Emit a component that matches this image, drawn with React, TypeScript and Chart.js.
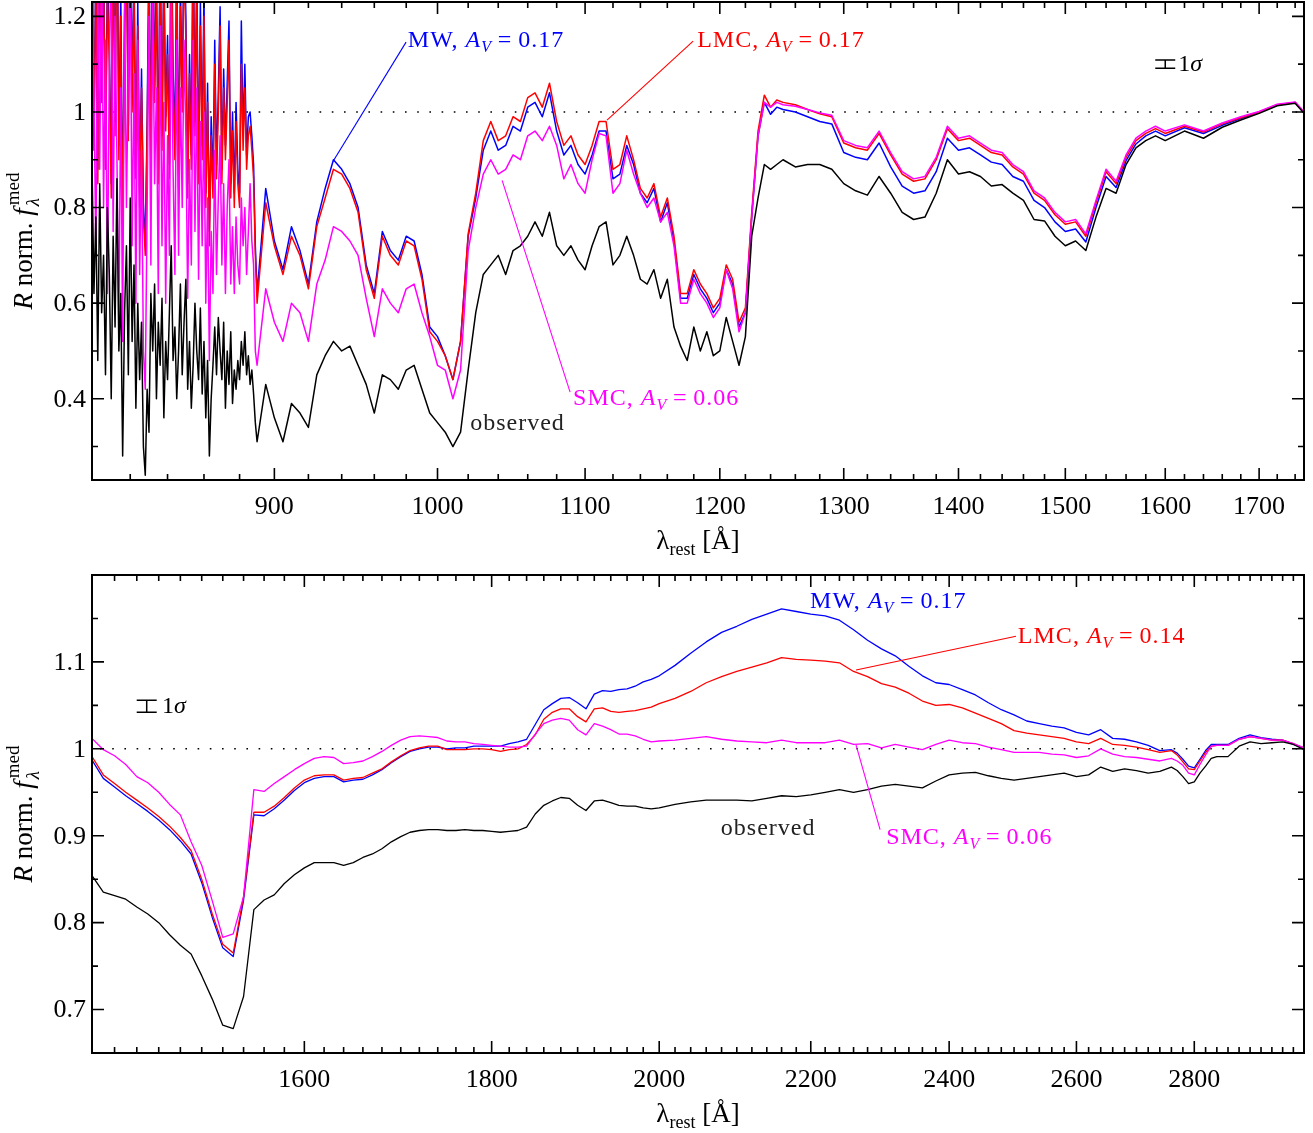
import React, { useEffect, useRef } from "react";
import { Chart, registerables } from "chart.js";

Chart.register(...registerables);

// ---------------- top panel data (rest wavelength, Angstrom) ----------------
const topLambda = [
  800, 801, 802, 803, 804, 805, 806, 807, 808, 809,
  810, 811, 812, 813, 814, 815, 816, 817, 818, 819,
  820, 821, 822, 823, 824, 825, 826, 827, 828, 829,
  830, 831, 832, 833, 834, 835, 836, 837, 838, 839,
  840, 841, 842, 843, 844, 845, 846, 847, 848, 849,
  850, 851, 852, 853, 854, 855, 856, 857, 858, 859,
  860, 861, 862, 863, 864, 865, 866, 867, 868, 869,
  870, 871, 872, 873, 874, 875, 876, 877, 878, 879,
  880, 881, 882, 883, 884, 885, 886, 887, 888, 889,
  890, 895, 900, 905, 910, 915, 920, 925, 930, 935,
  940, 945, 950, 955, 960, 965, 970, 975, 980, 985,
  990, 995, 1000, 1005, 1010, 1015, 1020, 1025, 1030, 1035,
  1040, 1045, 1050, 1055, 1060, 1065, 1070, 1075, 1080, 1085,
  1090, 1095, 1100, 1105, 1110, 1115, 1120, 1125, 1130, 1135,
  1140, 1145, 1150, 1155, 1160, 1165, 1170, 1175, 1180, 1185,
  1190, 1195, 1200, 1205, 1210, 1215, 1220, 1225, 1230, 1235,
  1240, 1245, 1250,
  1260, 1270, 1280, 1290, 1300, 1310, 1320, 1330, 1340, 1350,
  1360, 1370, 1380, 1390, 1400, 1410, 1420, 1430, 1440, 1450,
  1460, 1470, 1480, 1490, 1500, 1510, 1520, 1530, 1540, 1550,
  1560, 1570, 1580, 1590, 1600, 1620, 1640, 1660, 1680, 1700,
  1720, 1740, 1750,
];

const topObserved = [
  0.90, 0.62, 0.78, 0.48, 0.85, 0.58, 0.70, 0.45, 0.80, 0.66,
  0.40, 0.74, 0.55, 0.86, 0.50, 0.62, 0.28, 0.58, 0.72, 0.45,
  0.82, 0.52, 0.68, 0.38, 0.60, 0.44, 0.56, 0.30, 0.24, 0.42,
  0.33, 0.62, 0.50, 0.64, 0.40, 0.56, 0.47, 0.61, 0.36, 0.52,
  0.44, 0.58, 0.72, 0.48, 0.55, 0.40, 0.50, 0.64, 0.45, 0.56,
  0.65, 0.42, 0.52, 0.38, 0.47, 0.60, 0.50, 0.44, 0.59, 0.41,
  0.52, 0.36, 0.48, 0.28, 0.40, 0.47, 0.55, 0.45, 0.57, 0.50,
  0.44, 0.56, 0.38, 0.50, 0.43, 0.54, 0.39, 0.46, 0.42, 0.48,
  0.44, 0.52, 0.47, 0.54, 0.45, 0.49, 0.43, 0.46, 0.41, 0.35,
  0.31, 0.43, 0.36, 0.31, 0.39, 0.37, 0.34, 0.45, 0.49, 0.52,
  0.50, 0.51, 0.47, 0.43, 0.37, 0.45, 0.44, 0.42, 0.46, 0.47,
  0.42, 0.37, 0.35, 0.33, 0.30, 0.33, 0.46, 0.58, 0.66, 0.68,
  0.70, 0.66, 0.71, 0.72, 0.74, 0.77, 0.74, 0.79, 0.72, 0.70,
  0.72, 0.69, 0.67, 0.72, 0.76, 0.77, 0.68, 0.70, 0.74, 0.70,
  0.65, 0.64, 0.67, 0.61, 0.65, 0.55, 0.51, 0.48, 0.55, 0.50,
  0.54, 0.49, 0.50, 0.57, 0.52, 0.47, 0.53, 0.74, 0.82, 0.89,
  0.88, 0.89, 0.90,
  0.885, 0.89, 0.89, 0.88, 0.85, 0.835, 0.826, 0.865, 0.83, 0.79,
  0.775, 0.78, 0.83, 0.90, 0.87, 0.875, 0.865, 0.845, 0.848, 0.83,
  0.815, 0.775, 0.772, 0.74, 0.72, 0.73, 0.71, 0.78, 0.84, 0.83,
  0.89, 0.925, 0.94, 0.95, 0.94, 0.96, 0.945, 0.968, 0.983, 0.997,
  1.013, 1.018, 0.997,
];

const topMW = [
  1.40, 0.95, 1.33, 0.88, 1.45, 1.05, 1.35, 0.91, 1.30, 1.14,
  0.85, 1.43, 0.98, 1.50, 0.93, 1.25, 0.78, 1.20, 1.37, 0.97,
  1.47, 1.03, 1.31, 0.89, 1.23, 0.83, 1.09, 0.81, 0.72, 0.98,
  1.35, 0.91, 1.43, 1.05, 1.30, 0.88, 1.40, 0.95, 1.33, 0.99,
  1.16, 0.89, 1.45, 1.09, 0.93, 1.35, 0.87, 1.27, 1.03, 1.38,
  1.20, 0.85, 1.12, 0.91, 1.41, 0.98, 1.30, 0.88, 1.23, 0.93,
  1.25, 0.83, 1.06, 0.75, 0.99, 0.85, 1.15, 0.89, 1.04, 1.22,
  0.88, 1.09, 0.93, 1.06, 1.19, 0.85, 1.00, 0.83, 1.02, 0.88,
  0.83, 1.19, 0.95, 1.10, 0.91, 0.99, 1.00, 0.95, 0.89, 0.72,
  0.62, 0.84, 0.73, 0.67, 0.76, 0.71, 0.64, 0.77, 0.84, 0.90,
  0.88, 0.85, 0.80, 0.68, 0.62, 0.75, 0.71, 0.69, 0.74, 0.73,
  0.66, 0.55, 0.53, 0.49, 0.44, 0.52, 0.74, 0.82, 0.92, 0.96,
  0.92, 0.93, 0.97, 0.96, 1.01, 1.02, 0.99, 1.04, 0.96, 0.91,
  0.93, 0.89, 0.87, 0.91, 0.96, 0.96, 0.86, 0.87, 0.93, 0.89,
  0.83, 0.81, 0.84, 0.77, 0.81, 0.73, 0.61, 0.61, 0.66, 0.63,
  0.61, 0.58, 0.60, 0.67, 0.64, 0.55, 0.58, 0.78, 0.95, 1.02,
  0.995, 1.01, 1.005,
  1.0, 0.99, 0.98, 0.975, 0.915, 0.905, 0.90, 0.935, 0.885, 0.845,
  0.83, 0.835, 0.875, 0.945, 0.92, 0.925, 0.91, 0.895, 0.89, 0.865,
  0.855, 0.815, 0.80, 0.77, 0.75, 0.755, 0.728, 0.80, 0.865, 0.842,
  0.898, 0.933, 0.95, 0.96, 0.95, 0.967, 0.955, 0.972, 0.986, 0.999,
  1.014, 1.02, 0.999,
];

const topLMC = [
  1.35, 0.92, 1.28, 0.85, 1.40, 1.02, 1.30, 0.88, 1.25, 1.10,
  0.82, 1.38, 0.95, 1.45, 0.90, 1.20, 0.76, 1.15, 1.32, 0.94,
  1.42, 1.00, 1.26, 0.86, 1.18, 0.80, 1.05, 0.78, 0.70, 0.95,
  1.30, 0.88, 1.38, 1.02, 1.25, 0.85, 1.35, 0.92, 1.28, 0.96,
  1.12, 0.86, 1.40, 1.05, 0.90, 1.30, 0.84, 1.22, 1.00, 1.33,
  1.15, 0.82, 1.08, 0.88, 1.36, 0.95, 1.25, 0.85, 1.18, 0.90,
  1.20, 0.80, 1.02, 0.72, 0.95, 0.82, 1.10, 0.86, 1.00, 1.18,
  0.85, 1.05, 0.90, 1.02, 1.15, 0.82, 0.96, 0.80, 0.98, 0.85,
  0.80, 1.10, 0.92, 1.05, 0.88, 0.95, 0.97, 0.92, 0.86, 0.70,
  0.60, 0.81, 0.72, 0.66, 0.74, 0.70, 0.63, 0.76, 0.82, 0.88,
  0.87, 0.84, 0.79, 0.67, 0.61, 0.74, 0.70, 0.68, 0.73, 0.72,
  0.65, 0.54, 0.52, 0.49, 0.44, 0.52, 0.745, 0.83, 0.94, 0.98,
  0.94, 0.95, 0.99, 0.98, 1.03, 1.04, 1.01, 1.06, 0.98, 0.93,
  0.95, 0.91, 0.89, 0.93, 0.98, 0.98, 0.88, 0.89, 0.95, 0.90,
  0.84, 0.82, 0.85, 0.78, 0.82, 0.74, 0.62, 0.62, 0.67, 0.64,
  0.62, 0.59, 0.61, 0.68, 0.65, 0.56, 0.59, 0.79, 0.96, 1.035,
  1.01, 1.025, 1.02,
  1.015, 1.005, 0.996, 0.99, 0.935, 0.925, 0.92, 0.955, 0.91, 0.87,
  0.855, 0.86, 0.90, 0.965, 0.94, 0.945, 0.93, 0.915, 0.91, 0.885,
  0.87, 0.83, 0.815, 0.785, 0.765, 0.77, 0.74, 0.81, 0.875, 0.85,
  0.905, 0.94, 0.955, 0.965, 0.955, 0.97, 0.958, 0.975, 0.988, 1.0,
  1.015, 1.02, 1.0,
];

const topSMC = [
  1.30, 1.05, 0.70, 1.25, 0.88, 1.35, 0.80, 1.15, 0.62, 1.10,
  1.32, 0.75, 1.20, 0.90, 0.55, 1.05, 0.52, 1.25, 0.80, 1.10,
  1.30, 0.72, 1.08, 0.60, 1.15, 0.66, 0.92, 0.50, 0.42, 0.80,
  1.20, 0.68, 1.25, 0.85, 1.05, 0.62, 1.18, 0.72, 1.02, 0.60,
  0.95, 0.70, 1.25, 0.88, 0.66, 1.15, 0.70, 1.05, 0.80, 1.15,
  0.95, 0.61, 0.90, 0.68, 1.15, 0.75, 1.05, 0.65, 0.98, 0.72,
  1.00, 0.60, 0.82, 0.48, 0.75, 0.62, 0.92, 0.66, 0.82, 0.95,
  0.68, 0.85, 0.62, 0.80, 0.90, 0.64, 0.76, 0.62, 0.78, 0.68,
  0.64, 0.82, 0.72, 0.80, 0.66, 0.75, 0.85, 0.73, 0.68, 0.50,
  0.47, 0.63, 0.56, 0.52, 0.60, 0.58, 0.52, 0.64, 0.69, 0.76,
  0.75, 0.73, 0.70, 0.61, 0.53, 0.63, 0.60, 0.58, 0.63, 0.64,
  0.58, 0.53, 0.47, 0.46, 0.40, 0.46, 0.71, 0.80, 0.87, 0.90,
  0.87, 0.88, 0.91, 0.90, 0.95, 0.96, 0.94, 0.97, 0.93, 0.86,
  0.89, 0.85, 0.83, 0.90, 0.955, 0.95, 0.83, 0.85, 0.92, 0.87,
  0.83, 0.80, 0.82, 0.77, 0.79, 0.72, 0.60, 0.60, 0.65, 0.62,
  0.60, 0.57, 0.59, 0.67, 0.63, 0.54, 0.58, 0.78, 0.95, 1.02,
  1.01, 1.02, 1.015,
  1.012, 1.005, 0.998, 0.993, 0.94, 0.93, 0.925, 0.96, 0.915, 0.875,
  0.86, 0.865, 0.905, 0.97, 0.945, 0.95, 0.935, 0.92, 0.915, 0.89,
  0.875, 0.835, 0.82, 0.79, 0.77, 0.775, 0.745, 0.815, 0.88, 0.855,
  0.91, 0.945, 0.96, 0.97, 0.96, 0.973, 0.96, 0.977, 0.99, 1.001,
  1.016, 1.021, 1.0,
];

// ---------------- bottom panel data ----------------
const botLambda = [
  1400, 1410, 1420, 1430, 1440, 1450, 1460, 1470, 1480, 1490,
  1500, 1510, 1520, 1530, 1540, 1550, 1560, 1570, 1580, 1590,
  1600, 1610, 1620, 1630, 1640, 1650, 1660, 1670, 1680, 1690,
  1700, 1710, 1720, 1730, 1740, 1750, 1760, 1770, 1780, 1790,
  1800, 1810, 1820, 1830, 1840, 1850, 1860, 1870, 1880, 1890,
  1900, 1910, 1920, 1930, 1940, 1950, 1960, 1970, 1980, 1990,
  2000,
  2020, 2040, 2060, 2080, 2100, 2120, 2140, 2160, 2180, 2200,
  2220, 2240, 2260, 2280, 2300, 2320, 2340, 2360, 2380, 2400,
  2420, 2440, 2460, 2480, 2500, 2520, 2540, 2560, 2580, 2600,
  2620, 2640, 2660, 2680, 2700, 2720, 2740, 2760,
  2770, 2780, 2790, 2800, 2810, 2820, 2830, 2840,
  2860, 2880, 2900, 2920, 2940, 2960, 2980, 3000,
];

const botObserved = [
  0.854, 0.835, 0.831, 0.827, 0.818, 0.810, 0.800, 0.786, 0.774, 0.764,
  0.739, 0.712, 0.682, 0.678, 0.715, 0.815, 0.826, 0.832, 0.845, 0.855,
  0.863, 0.869, 0.869, 0.869, 0.866, 0.869, 0.875, 0.879, 0.885, 0.893,
  0.899, 0.904, 0.906, 0.907, 0.907, 0.906, 0.906, 0.907, 0.906, 0.906,
  0.905, 0.904, 0.905, 0.906, 0.910, 0.925, 0.935, 0.940, 0.944, 0.943,
  0.935, 0.929, 0.940, 0.941, 0.938, 0.935, 0.934, 0.934, 0.932, 0.931,
  0.932,
  0.936, 0.939, 0.941, 0.941, 0.941, 0.940, 0.943, 0.946, 0.945, 0.947,
  0.950, 0.953, 0.950, 0.953, 0.957, 0.959, 0.957, 0.955, 0.963, 0.970,
  0.972, 0.973, 0.969, 0.966, 0.964, 0.966, 0.968, 0.970, 0.972, 0.968,
  0.970, 0.979, 0.974, 0.977, 0.975, 0.972, 0.974, 0.979,
  0.975, 0.968, 0.960, 0.962, 0.972, 0.980, 0.989, 0.991,
  0.991, 1.003, 1.008, 1.006, 1.007, 1.008, 1.005, 0.999,
];

const botMW = [
  0.987, 0.966, 0.956, 0.946, 0.937, 0.928, 0.918, 0.907, 0.894, 0.879,
  0.846, 0.806, 0.771, 0.761, 0.826, 0.924, 0.923, 0.931, 0.941, 0.952,
  0.961, 0.966, 0.968, 0.968, 0.962, 0.964, 0.965, 0.970, 0.976, 0.984,
  0.991, 0.997, 1.000, 1.002, 1.002, 1.000, 1.001, 1.001, 1.003, 1.003,
  1.003, 1.003, 1.006, 1.008, 1.011, 1.028, 1.045, 1.052, 1.058, 1.059,
  1.053, 1.046, 1.063, 1.067, 1.066, 1.068, 1.069, 1.072, 1.077, 1.080,
  1.084,
  1.096, 1.110, 1.123, 1.134, 1.141, 1.149, 1.155, 1.161, 1.158, 1.155,
  1.153, 1.148, 1.137, 1.125, 1.115, 1.107, 1.095, 1.084, 1.076, 1.074,
  1.068, 1.062, 1.053, 1.045, 1.039, 1.032, 1.029, 1.026, 1.024, 1.019,
  1.016, 1.022, 1.012, 1.011, 1.008, 1.004, 0.998, 0.999,
  0.995, 0.988, 0.980, 0.978, 0.988, 0.998, 1.005, 1.005,
  1.005, 1.012, 1.016, 1.013, 1.011, 1.010, 1.005, 1.001,
];

const botLMC = [
  0.991, 0.970, 0.960, 0.950, 0.941, 0.932, 0.922, 0.911, 0.898, 0.883,
  0.850, 0.810, 0.775, 0.765, 0.830, 0.927, 0.927, 0.934, 0.944, 0.955,
  0.964, 0.969, 0.970, 0.970, 0.964, 0.966, 0.967, 0.972, 0.977, 0.985,
  0.992, 0.998, 1.001, 1.003, 1.003, 0.999, 0.999, 0.999, 1.000, 1.000,
  0.999, 0.997, 0.999, 1.000, 1.005, 1.016, 1.034, 1.042, 1.046, 1.046,
  1.037, 1.031, 1.046, 1.047, 1.043, 1.042, 1.043, 1.044, 1.046, 1.048,
  1.052,
  1.058, 1.066, 1.076, 1.083, 1.089, 1.094, 1.099, 1.105, 1.103, 1.102,
  1.101, 1.099, 1.089, 1.083, 1.075, 1.071, 1.064, 1.055, 1.050, 1.051,
  1.047, 1.041, 1.035, 1.029, 1.021, 1.018, 1.016, 1.014, 1.012, 1.008,
  1.006, 1.012, 1.005, 1.004, 1.002, 0.999, 0.996, 0.998,
  0.993, 0.985, 0.977, 0.976, 0.986, 0.996, 1.003, 1.004,
  1.004, 1.011, 1.014, 1.012, 1.010, 1.010, 1.006, 1.001,
];

const botSMC = [
  1.012, 0.999, 0.992, 0.982, 0.968, 0.961, 0.950, 0.936, 0.924, 0.893,
  0.866, 0.825, 0.783, 0.787, 0.830, 0.953, 0.951, 0.960, 0.968, 0.976,
  0.983, 0.989, 0.991, 0.990, 0.983, 0.984, 0.986, 0.991, 0.997, 1.004,
  1.010, 1.014, 1.015, 1.014, 1.013, 1.009, 1.008, 1.008, 1.006, 1.005,
  1.004, 1.003, 1.002, 1.002, 1.003, 1.017, 1.029, 1.033, 1.035, 1.033,
  1.022, 1.016, 1.029, 1.026, 1.022, 1.017, 1.017, 1.015, 1.011, 1.008,
  1.009,
  1.010, 1.012, 1.014, 1.011, 1.009, 1.008, 1.007, 1.010, 1.007, 1.007,
  1.007, 1.010, 1.005, 1.006, 1.001, 1.005, 1.002, 0.999, 1.005, 1.010,
  1.007, 1.006, 1.002, 0.999, 0.996, 0.996, 0.996, 0.994, 0.993, 0.990,
  0.992, 1.000, 0.994, 0.991, 0.990, 0.988, 0.986, 0.989,
  0.986, 0.981, 0.972, 0.970, 0.982, 0.993, 1.003, 1.004,
  1.004, 1.011, 1.014, 1.012, 1.010, 1.010, 1.006, 1.001,
];

// ---------------- axes ----------------
const topXMajor = [900, 1000, 1100, 1200, 1300, 1400, 1500, 1600, 1700];
const topXLabels = ["900", "1000", "1100", "1200", "1300", "1400", "1500", "1600", "1700"];
const topYMajor = [0.4, 0.6, 0.8, 1, 1.2];
const topYLabels = ["0.4", "0.6", "0.8", "1", "1.2"];
const topYMinor = [0.3, 0.5, 0.7, 0.9, 1.1];

const botXMajor = [1600, 1800, 2000, 2200, 2400, 2600, 2800];
const botXLabels = ["1600", "1800", "2000", "2200", "2400", "2600", "2800"];
const botYMajor = [0.7, 0.8, 0.9, 1, 1.1];
const botYLabels = ["0.7", "0.8", "0.9", "1", "1.1"];
const botYMinor = [0.75, 0.85, 0.95, 1.05, 1.15];

function minorTicks(from: number, to: number, step: number, majorStep: number): number[] {
  const out: number[] = [];
  for (let v = from; v <= to; v += step) if (v % majorStep !== 0) out.push(v);
  return out;
}
const topXMinor = minorTicks(820, 1740, 20, 100);
const botXMinor = minorTicks(1420, 2980, 20, 200);

const C_OBS = "#000000";
const C_MW = "#0000ff";
const C_LMC = "#ff0000";
const C_SMC = "#ff00ff";

const FAMILY = '"Liberation Serif", "Times New Roman", serif';
const font = (sz: number, it?: boolean) => `${it ? "italic " : ""}${sz}px ${FAMILY}`;

type Seg = { t: string; sz: number; it?: boolean; dy?: number };

function segWidth(ctx: CanvasRenderingContext2D, segs: Seg[]) {
  let w = 0;
  for (const s of segs) {
    ctx.font = font(s.sz, s.it);
    w += ctx.measureText(s.t).width;
  }
  return w;
}
function drawSegs(ctx: CanvasRenderingContext2D, segs: Seg[], x: number, y: number) {
  let cx = x;
  for (const s of segs) {
    ctx.font = font(s.sz, s.it);
    ctx.fillText(s.t, cx, y + (s.dy || 0));
    cx += ctx.measureText(s.t).width;
  }
  return cx;
}

const avLabel = (name: string, val: string): Seg[] => [
  { t: name + ", ", sz: 24 },
  { t: "A", sz: 24, it: true },
  { t: "V", sz: 16, it: true, dy: 5 },
  { t: "\u2009=\u2009" + val, sz: 24 },
];

interface Note { lam: number; val: number; color: string; segs: Seg[] }
interface Leader { a: [number, number]; b: [number, number]; color: string }
interface PanelCfg {
  lam: number[];
  series: { values: number[]; color: string; order: number }[];
  xMin: number; xMax: number; yMin: number; yMax: number;
  padding: { left: number; right: number; top: number; bottom: number };
  lineWidth: number;
  xMajor: number[]; xLabels: string[]; xMinor: number[];
  yMajor: number[]; yLabels: string[]; yMinor: number[];
  notes: Note[]; leaders: Leader[];
  sigma: { lam: number; val: number; half: number; textLam: number; textVal: number };
}

const topCfg: PanelCfg = {
  lam: topLambda,
  series: [
    { values: topMW, color: C_MW, order: 3 },
    { values: topLMC, color: C_LMC, order: 2 },
    { values: topSMC, color: C_SMC, order: 1 },
    { values: topObserved, color: C_OBS, order: 0 },
  ],
  xMin: 800, xMax: 1750, yMin: 0.23, yMax: 1.23,
  padding: { left: 92, right: 9, top: 2, bottom: 80 },
  lineWidth: 1.5,
  xMajor: topXMajor, xLabels: topXLabels, xMinor: topXMinor,
  yMajor: topYMajor, yLabels: topYLabels, yMinor: topYMinor,
  notes: [
    { lam: 981, val: 1.135, color: C_MW, segs: avLabel("MW", "0.17") },
    { lam: 1182.6, val: 1.135, color: C_LMC, segs: avLabel("LMC", "0.17") },
    { lam: 1091.5, val: 0.386, color: C_SMC, segs: avLabel("SMC", "0.06") },
    { lam: 1021.3, val: 0.334, color: "#222", segs: [{ t: "observed", sz: 24 }] },
  ],
  leaders: [
    { a: [934.8, 0.897], b: [979.9, 1.146], color: C_MW },
    { a: [1115.7, 0.983], b: [1179.5, 1.148], color: C_LMC },
    { a: [1042.6, 0.857], b: [1089.4, 0.414], color: C_SMC },
  ],
  sigma: { lam: 1600, val: 1.1, half: 0.0084, textLam: 1613.4, textVal: 1.085 },
};

const botCfg: PanelCfg = {
  lam: botLambda,
  series: [
    { values: botMW, color: C_MW, order: 3 },
    { values: botLMC, color: C_LMC, order: 2 },
    { values: botSMC, color: C_SMC, order: 1 },
    { values: botObserved, color: C_OBS, order: 0 },
  ],
  xMin: 1400, xMax: 3000, yMin: 0.65, yMax: 1.2,
  padding: { left: 92, right: 9, top: 15, bottom: 80 },
  lineWidth: 1.3,
  xMajor: botXMajor, xLabels: botXLabels, xMinor: botXMinor,
  yMajor: botYMajor, yLabels: botYLabels, yMinor: botYMinor,
  notes: [
    { lam: 2199, val: 1.1617, color: C_MW, segs: avLabel("MW", "0.17") },
    { lam: 2506, val: 1.1216, color: C_LMC, segs: avLabel("LMC", "0.14") },
    { lam: 2306.8, val: 0.891, color: C_SMC, segs: avLabel("SMC", "0.06") },
    { lam: 2079, val: 0.9014, color: "#222", segs: [{ t: "observed", sz: 24 }] },
  ],
  leaders: [
    { a: [2263.5, 1.0906], b: [2503, 1.1296], color: C_LMC },
    { a: [2263.5, 1.0046], b: [2298, 0.907], color: C_SMC },
  ],
  sigma: { lam: 1449, val: 1.049, half: 0.0069, textLam: 1463, textVal: 1.041 },
};

function makeDecor(cfg: PanelCfg) {
  return {
    id: "decor",
    beforeDatasetsDraw(chart: any) {
      const { ctx, chartArea: a, scales } = chart;
      const y = scales.y.getPixelForValue(1);
      ctx.save();
      ctx.strokeStyle = "#000";
      ctx.lineWidth = 1.6;
      ctx.setLineDash([1.6, 10.6]);
      ctx.beginPath();
      ctx.moveTo(a.left + 8, y);
      ctx.lineTo(a.right, y);
      ctx.stroke();
      ctx.restore();
    },
    afterDatasetsDraw(chart: any) {
      const { ctx, chartArea: a, scales } = chart;
      const xs = scales.x, ys = scales.y;
      ctx.save();
      ctx.strokeStyle = "#000";
      ctx.fillStyle = "#000";
      ctx.lineWidth = 2;
      ctx.strokeRect(a.left, a.top, a.right - a.left, a.bottom - a.top);
      ctx.lineWidth = 1.6;
      const xt = (v: number, len: number) => {
        const x = xs.getPixelForValue(v);
        ctx.beginPath();
        ctx.moveTo(x, a.bottom); ctx.lineTo(x, a.bottom - len);
        ctx.moveTo(x, a.top); ctx.lineTo(x, a.top + len);
        ctx.stroke();
      };
      const yt = (v: number, len: number) => {
        const y = ys.getPixelForValue(v);
        ctx.beginPath();
        ctx.moveTo(a.left, y); ctx.lineTo(a.left + len, y);
        ctx.moveTo(a.right, y); ctx.lineTo(a.right - len, y);
        ctx.stroke();
      };
      cfg.xMajor.forEach((v) => xt(v, 12));
      cfg.xMinor.forEach((v) => xt(v, 6));
      cfg.yMajor.forEach((v) => yt(v, 12));
      cfg.yMinor.forEach((v) => yt(v, 6));
      ctx.font = font(26);
      ctx.textAlign = "center";
      ctx.textBaseline = "alphabetic";
      cfg.xMajor.forEach((v, i) => ctx.fillText(cfg.xLabels[i], xs.getPixelForValue(v), a.bottom + 34));
      ctx.textAlign = "right";
      ctx.textBaseline = "middle";
      cfg.yMajor.forEach((v, i) => ctx.fillText(cfg.yLabels[i], a.left - 6, ys.getPixelForValue(v) + 1));
      ctx.textAlign = "left";
      ctx.textBaseline = "alphabetic";
      const xtSegs: Seg[] = [
        { t: "λ", sz: 27 },
        { t: "rest", sz: 18, dy: 6 },
        { t: " [Å]", sz: 27 },
      ];
      const xw = segWidth(ctx, xtSegs);
      drawSegs(ctx, xtSegs, (a.left + a.right) / 2 - xw / 2, a.bottom + 69);
      ctx.save();
      ctx.translate(32, (a.top + a.bottom) / 2);
      ctx.rotate(-Math.PI / 2);
      const ySegs: Seg[] = [
        { t: "R", sz: 27, it: true },
        { t: " norm. ", sz: 27 },
        { t: "f", sz: 27, it: true },
      ];
      ctx.font = font(19, true);
      const wl = ctx.measureText("λ").width;
      ctx.font = font(19);
      const wm = ctx.measureText("med").width;
      const yw = segWidth(ctx, ySegs) + 3 + Math.max(wl, wm);
      const end = drawSegs(ctx, ySegs, -yw / 2, 0);
      ctx.font = font(19, true);
      ctx.fillText("λ", end + 2, 7);
      ctx.font = font(19);
      ctx.fillText("med", end + 3, -13);
      ctx.restore();
      ctx.lineWidth = 1.1;
      cfg.leaders.forEach((l) => {
        ctx.strokeStyle = l.color;
        ctx.beginPath();
        ctx.moveTo(xs.getPixelForValue(l.a[0]), ys.getPixelForValue(l.a[1]));
        ctx.lineTo(xs.getPixelForValue(l.b[0]), ys.getPixelForValue(l.b[1]));
        ctx.stroke();
      });
      (ctx as any).letterSpacing = "1px";
      cfg.notes.forEach((n) => {
        ctx.fillStyle = n.color;
        drawSegs(ctx, n.segs, xs.getPixelForValue(n.lam), ys.getPixelForValue(n.val));
      });
      (ctx as any).letterSpacing = "0px";
      const s = cfg.sigma;
      const sx = xs.getPixelForValue(s.lam);
      const y1 = ys.getPixelForValue(s.val - s.half);
      const y2 = ys.getPixelForValue(s.val + s.half);
      ctx.strokeStyle = "#000";
      ctx.lineWidth = 1.5;
      ctx.beginPath();
      ctx.moveTo(sx, y1); ctx.lineTo(sx, y2);
      ctx.moveTo(sx - 10, y1); ctx.lineTo(sx + 10, y1);
      ctx.moveTo(sx - 10, y2); ctx.lineTo(sx + 10, y2);
      ctx.stroke();
      ctx.fillStyle = "#000";
      drawSegs(ctx, [{ t: "1", sz: 24 }, { t: "σ", sz: 24, it: true }], xs.getPixelForValue(s.textLam), ys.getPixelForValue(s.textVal));
      ctx.restore();
    },
  };
}

function Panel({ cfg, top, height }: { cfg: PanelCfg; top: number; height: number }) {
  const ref = useRef<HTMLCanvasElement>(null);
  useEffect(() => {
    const canvas = ref.current;
    if (!canvas) return;
    const chart = new Chart(canvas, {
      type: "line",
      data: {
        datasets: cfg.series.map((s) => ({
          data: cfg.lam.map((x, i) => ({ x, y: s.values[i] })),
          borderColor: s.color,
          backgroundColor: s.color,
          borderWidth: cfg.lineWidth,
          pointRadius: 0,
          tension: 0,
          fill: false,
          order: s.order,
          clip: 0,
          borderJoinStyle: "round",
        })),
      } as any,
      options: {
        animation: false,
        responsive: false,
        devicePixelRatio: 1,
        events: [],
        layout: { padding: cfg.padding },
        plugins: { legend: { display: false }, tooltip: { enabled: false } },
        scales: {
          x: { type: "logarithmic", min: cfg.xMin, max: cfg.xMax, display: false },
          y: { type: "linear", min: cfg.yMin, max: cfg.yMax, display: false },
        },
      } as any,
      plugins: [makeDecor(cfg)],
    });
    return () => chart.destroy();
  }, [cfg]);
  return (
    <canvas
      ref={ref}
      width={1313}
      height={height}
      style={{ position: "absolute", left: 0, top, width: 1313, height }}
    />
  );
}

export default function App() {
  return (
    <div style={{ position: "absolute", left: 0, top: 0, width: 1313, height: 1133, background: "#ffffff" }}>
      <Panel cfg={topCfg} top={0} height={560} />
      <Panel cfg={botCfg} top={560} height={573} />
    </div>
  );
}
